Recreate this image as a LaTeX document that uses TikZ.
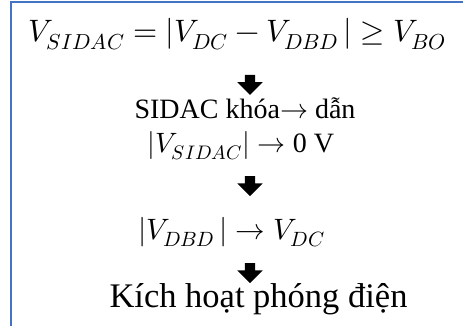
\documentclass[tikz,border=0pt]{standalone}
\usepackage{amsmath}
\usepackage{fontspec}
\usepackage{unicode-math}
\setmainfont{Liberation Serif}
\setmathfont{Latin Modern Math}
\usepackage{tikz}
\usetikzlibrary{positioning,shapes.arrows}

\definecolor{boxblue}{RGB}{68,114,196}

\begin{document}
\begin{tikzpicture}[
  x=1pt, y=1pt,
  eqn/.style={inner sep=0pt, font=\fontsize{29.5}{34}\selectfont, text height=22pt, text depth=7pt},
  txt/.style={inner sep=0pt, font=\fontsize{28}{33}\selectfont, text height=19.5pt, text depth=6.5pt},
  big/.style={inner sep=0pt, font=\fontsize{34.5}{40}\selectfont, text height=25.5pt, text depth=8.5pt},
  downarr/.style={single arrow, shape border rotate=270, fill=black, draw=none, inner sep=5pt,
    minimum height=20pt, minimum width=25pt, single arrow head extend=7.5pt},
  frame/.style={draw=boxblue, line width=1.5pt},
  node distance=10pt
]
  \useasboundingbox (0,0) rectangle (463,326);

  % Frame (open to the right and below)
  \draw[frame] (11,-10) |- (480,324);

  % Condition
  \node[eqn, font=\fontsize{31}{36}\selectfont] (cond) at (237,292) {$V_{SIDAC} = |V_{DC} - V_{DBD}\,| \geq V_{BO}$};

  % SIDAC switches
  \node[downarr, below=26pt of cond, xshift=13pt] (a1) {};
  \node[txt, below=3.5pt of a1, xshift=-5pt] (sw) {SIDAC khóa$\rightarrow$ dẫn};
  \node[txt, below=8pt of sw, xshift=-4pt] (vs) {$|V_{SIDAC}| \rightarrow$ 0 V};

  % DBD voltage
  \node[downarr, below=16.5pt of vs, xshift=9pt] (a2) {};
  \node[eqn, below=21pt of a2, xshift=-18.5pt] (vd) {$|V_{DBD}\,| \rightarrow V_{DC}$};

  % Discharge
  \node[downarr, below=16pt of vd, xshift=18.5pt] (a3) {};
  \node[big, below=-1.5pt of a3, xshift=8.5pt] (dis) {Kích hoạt phóng điện};
\end{tikzpicture}
\end{document}
